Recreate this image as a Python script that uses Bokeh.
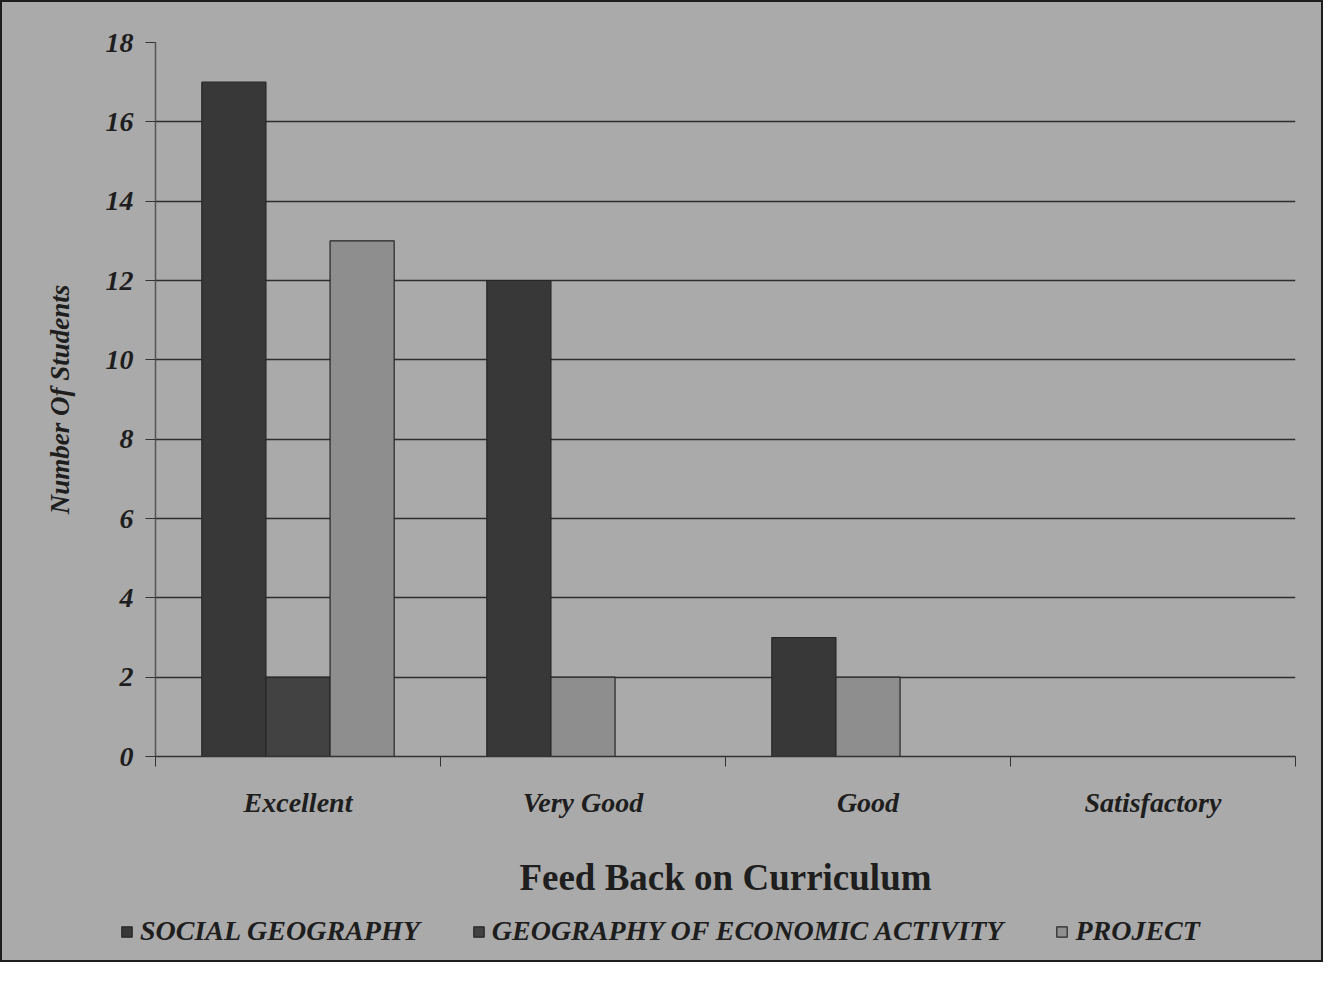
from bokeh.plotting import figure
from bokeh.layouts import column
from bokeh.models import FixedTicker, Legend, LegendItem, ColumnDataSource
from bokeh.embed import file_html
from bokeh.resources import INLINE

categories = ["Excellent", "Very Good", "Good", "Satisfactory"]
series_names = ["SOCIAL GEOGRAPHY", "GEOGRAPHY OF ECONOMIC ACTIVITY", "PROJECT"]
social_geography = [17, 12, 3, 0]
economic_activity = [2, 0, 0, 0]
project = [13, 2, 2, 0]
y_ticks = [0, 2, 4, 6, 8, 10, 12, 14, 16, 18]

series_values = [social_geography, economic_activity, project]
colors = ["#383838", "#424242", "#8e8e8e"]
BG = "#aaaaaa"
SERIF = "Liberation Serif"

centers = [i + 0.5 for i in range(len(categories))]
bar_w = 0.225
slot_offsets = [-bar_w, 0.0, bar_w]

# bars of each category are packed side by side (empty values take no slot)
xs = [[] for _ in series_values]
tops = [[] for _ in series_values]
for ci, c in enumerate(centers):
    k = 0
    for si, vals in enumerate(series_values):
        v = vals[ci]
        if v > 0:
            xs[si].append(c + slot_offsets[k])
            tops[si].append(v)
            k += 1

LEFT, RIGHT, FRAME_W = 153, 26, 1140
p = figure(frame_width=FRAME_W, frame_height=714, x_range=(0, len(categories)), y_range=(0, 18),
           output_backend="svg", toolbar_location=None,
           min_border_left=LEFT, min_border_top=40, min_border_right=RIGHT,
           min_border_bottom=6)
p.background_fill_color = BG
p.border_fill_color = BG
p.outline_line_color = None

sources = []
for si in range(3):
    src = ColumnDataSource(dict(x=xs[si], top=tops[si]))
    sources.append(src)
    p.vbar(x="x", top="top", width=bar_w, bottom=0, source=src,
           fill_color=colors[si], line_color="#262626", line_width=1.2)

# axes
p.xaxis.ticker = FixedTicker(ticks=centers, minor_ticks=list(range(len(categories) + 1)))
p.xaxis.major_label_overrides = {c: cat for c, cat in zip(centers, categories)}
p.xaxis.major_tick_out = 0
p.xaxis.major_tick_in = 0
p.xaxis.minor_tick_out = 10
p.xaxis.minor_tick_in = 0
p.xaxis.minor_tick_line_color = "#333333"
p.xaxis.axis_line_color = "#333333"
p.xaxis.axis_line_width = 1.5
p.xaxis.major_label_standoff = 20
p.xaxis.major_label_text_font = SERIF
p.xaxis.major_label_text_font_style = "bold italic"
p.xaxis.major_label_text_font_size = "28px"
p.xaxis.major_label_text_color = "#1e1e1e"
p.xaxis.axis_label = "Feed Back on Curriculum"
p.xaxis.axis_label_text_font = SERIF
p.xaxis.axis_label_text_font_style = "bold"
p.xaxis.axis_label_text_font_size = "37px"
p.xaxis.axis_label_text_color = "#1e1e1e"
p.xaxis.axis_label_standoff = 36

p.yaxis.ticker = FixedTicker(ticks=y_ticks)
p.yaxis.major_tick_out = 10
p.yaxis.major_tick_in = 0
p.yaxis.minor_tick_out = 0
p.yaxis.minor_tick_in = 0
p.yaxis.major_tick_line_color = "#333333"
p.yaxis.axis_line_color = "#555555"
p.yaxis.axis_line_width = 1.5
p.yaxis.major_label_standoff = 12
p.yaxis.major_label_text_font = SERIF
p.yaxis.major_label_text_font_style = "bold italic"
p.yaxis.major_label_text_font_size = "28px"
p.yaxis.major_label_text_color = "#1e1e1e"
p.yaxis.axis_label = "Number Of Students"
p.yaxis.axis_label_text_font = SERIF
p.yaxis.axis_label_text_font_style = "bold italic"
p.yaxis.axis_label_text_font_size = "27px"
p.yaxis.axis_label_text_color = "#1e1e1e"
p.yaxis.axis_label_standoff = 28

p.xgrid.grid_line_color = None
p.ygrid.ticker = FixedTicker(ticks=y_ticks)
p.ygrid.grid_line_color = "#2e2e2e"
p.ygrid.grid_line_width = 1.4

# legend strip under the chart (same series styles, bars kept out of view)
TOTAL_W = LEFT + FRAME_W + RIGHT
leg = figure(width=TOTAL_W, height=60, x_range=(0, 1), y_range=(100, 101),
             output_backend="svg", toolbar_location=None,
             min_border=0, x_axis_type=None, y_axis_type=None)
leg.background_fill_color = BG
leg.border_fill_color = BG
leg.outline_line_color = None
leg.grid.visible = False
if "frame_align" in leg.properties():
    leg.frame_align = False
    lx = 118
else:
    lx = 4
leg_renderers = []
for si in range(3):
    r = leg.vbar(x="x", top="top", width=bar_w, bottom=0, source=sources[si],
                 fill_color=colors[si], line_color="#262626", line_width=1.2)
    leg_renderers.append(r)

legend = Legend(items=[LegendItem(label=n, renderers=[r]) for n, r in zip(series_names, leg_renderers)],
                orientation="horizontal", location=(lx, 13),
                background_fill_alpha=0, border_line_color=None,
                label_text_font=SERIF, label_text_font_style="bold italic",
                label_text_font_size="28px", label_text_color="#1e1e1e",
                glyph_width=13, glyph_height=13, spacing=52, label_standoff=7,
                margin=0, padding=2)
leg.add_layout(legend, "center")

layout = column(p, leg, spacing=0)
layout.styles = {"border": "2px solid #1e1e1e", "background-color": BG}

open("out.html", "w").write(file_html(layout, INLINE))
